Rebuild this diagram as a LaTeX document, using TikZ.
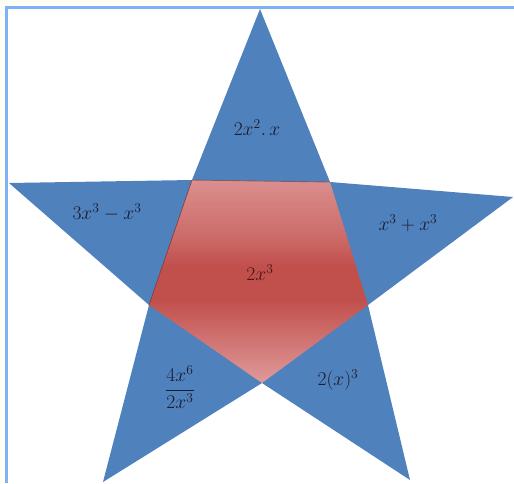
\documentclass[tikz,border=0pt]{standalone}
\usepackage{graphicx}
\usepackage{amsmath}
\definecolor{bgivory}{RGB}{254,254,244}
\definecolor{frameblue}{RGB}{125,178,246}
\definecolor{starblue}{RGB}{79,129,189}
\definecolor{pinklight}{RGB}{222,150,150}
\definecolor{reddark}{RGB}{193,80,77}
\definecolor{edgegray}{RGB}{120,96,104}
\definecolor{txt}{RGB}{28,28,45}
\definecolor{txtred}{RGB}{75,22,26}
\newcommand{\bigtxt}[1]{\scalebox{1.13}{#1}}
\tikzset{
  lbl/.style={text=txt, font=\LARGE, inner sep=0pt},
}
\begin{document}
\begin{tikzpicture}[x=1pt,y=-1pt]
\useasboundingbox (0,0) rectangle (514,483);
\fill[bgivory] (0,0) rectangle (514,483);
\fill[white] (6.5,7.5) rectangle (514,483);
\draw[frameblue, line width=3pt] (6.5,483) -- (6.5,7.5) -- (514,7.5);
% star points
\coordinate (T) at (260,9);
\coordinate (PTR) at (330,182);
\coordinate (R) at (513,197);
\coordinate (PR) at (368,305);
\coordinate (BR) at (410,480);
\coordinate (PB) at (262,383);
\coordinate (BL) at (103,482);
\coordinate (PL) at (149,305);
\coordinate (L) at (9,183);
\coordinate (PTL) at (192,180);
\fill[starblue] (T) -- (PTR) -- (R) -- (PR) -- (BR) -- (PB) -- (BL) -- (PL) -- (L) -- (PTL) -- cycle;
\begin{scope}
  \clip (PTL) -- (PTR) -- (PR) -- (PB) -- (PL) -- cycle;
  \foreach \y in {178,180,...,384} {
    \pgfmathsetmacro{\p}{\y<235 ? 10+50*(\y-178)/57 : (\y<265 ? 60+40*(\y-235)/30 : (\y<300 ? 100 : max(0,100-100*(\y-300)/78)))}
    \fill[reddark!\p!pinklight] (140,\y) rectangle (380,\y+2.3);
  }
\end{scope}
\draw[edgegray, line width=0.9pt] (PTL) -- (PTR);
\draw[reddark!70!black, line width=0.6pt] (PL) -- (PTL);
% labels
\node[lbl] (top) at (257,128) {\bigtxt{$2x^2.\,x$}};
\node[lbl] (left) at (107,212) {\bigtxt{$3x^3-x^3$}};
\node[lbl] (right) at (408,223) {\bigtxt{$x^3+x^3$}};
\node[lbl, text=txtred] (mid) at (260,273) {\bigtxt{$2x^3$}};
\node[lbl] (bl) at (180,387) {\bigtxt{$\dfrac{4x^6}{2x^3}$}};
\node[lbl] (br) at (338,380) {\bigtxt{$2(x)^3$}};
\end{tikzpicture}
\end{document}
